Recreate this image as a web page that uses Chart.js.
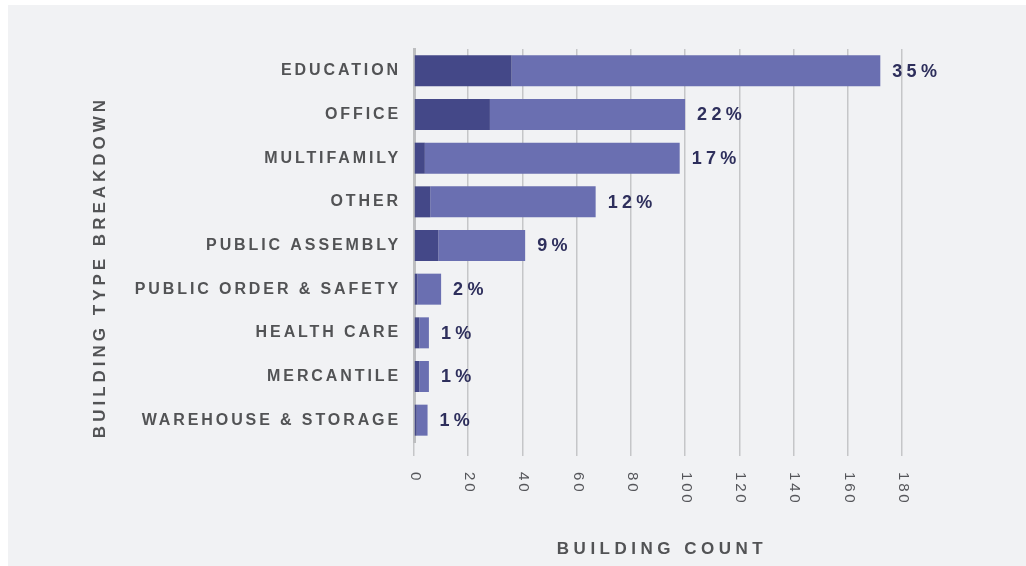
<!DOCTYPE html>
<html>
<head>
<meta charset="utf-8">
<title>Building Type Breakdown</title>
<script src="https://cdn.jsdelivr.net/npm/chart.js@4/dist/chart.umd.min.js"></script>
<style>
    html, body { margin: 0; padding: 0; background: #ffffff; }
    canvas { display: block; }
</style>
</head>
<body>
<canvas id="chart" width="1026" height="566"></canvas>
<script>
// values
const categories = ['EDUCATION', 'OFFICE', 'MULTIFAMILY', 'OTHER', 'PUBLIC ASSEMBLY',
    'PUBLIC ORDER & SAFETY', 'HEALTH CARE', 'MERCANTILE', 'WAREHOUSE & STORAGE'];
const darkCounts = [36, 28, 4, 6, 9, 1.3, 2, 2, 1];
const lightCounts = [136, 72, 94, 61, 32, 8.7, 3.5, 3.5, 4];
const shareLabels = ['35%', '22%', '17%', '12%', '9%', '2%', '1%', '1%', '1%'];
const xMin = 0;
const xMax = 180;
const xStep = 20;
const xTitle = 'BUILDING COUNT';
const yTitle = 'BUILDING TYPE BREAKDOWN';

const FONT = "'Liberation Sans', Arial, Helvetica, sans-serif";
const GRAY_TEXT = '#525355';
const NAVY_TEXT = '#2e2f5c';

const framePlugin = {
    id: 'frame',
    beforeDraw: (chart) => {
        const ctx = chart.ctx;
        ctx.save();
        ctx.fillStyle = '#ffffff';
        ctx.fillRect(0, 0, chart.width, chart.height);
        ctx.fillStyle = '#f1f2f4';
        ctx.fillRect(8, 5, chart.width - 8, chart.height - 5);
        ctx.restore();
        ctx.letterSpacing = '2.9px'; // used by the category tick labels
    },
    afterDraw: (chart) => {
        const ctx = chart.ctx;
        const xScale = chart.scales.x;

        // x tick labels, turned clockwise
        ctx.save();
        ctx.letterSpacing = '2.8px';
        ctx.font = `15px ${FONT}`;
        ctx.fillStyle = '#55565a';
        ctx.textAlign = 'left';
        ctx.textBaseline = 'middle';
        xScale.ticks.forEach((tick, i) => {
            const x = xScale.getPixelForTick(i);
            ctx.save();
            ctx.translate(x + 1, 472);
            ctx.rotate(Math.PI / 2);
            ctx.fillText(String(tick.value), 0, 0);
            ctx.restore();
        });
        ctx.restore();

        // share labels at the end of each bar
        const meta = chart.getDatasetMeta(1);
        ctx.save();
        ctx.letterSpacing = '4.3px';
        ctx.font = `bold 18px ${FONT}`;
        ctx.fillStyle = NAVY_TEXT;
        ctx.textAlign = 'left';
        ctx.textBaseline = 'middle';
        meta.data.forEach((bar, i) => {
            ctx.fillText(shareLabels[i], bar.x + 12, bar.y + 1);
        });
        ctx.restore();

        // axis titles
        ctx.save();
        ctx.letterSpacing = '4.5px';
        ctx.font = `bold 17px ${FONT}`;
        ctx.fillStyle = GRAY_TEXT;
        ctx.textAlign = 'center';
        ctx.textBaseline = 'middle';
        ctx.fillText(xTitle, 662, 549);
        ctx.translate(100, 269);
        ctx.rotate(-Math.PI / 2);
        ctx.letterSpacing = '4px';
        ctx.fillText(yTitle, 2, 0);
        ctx.restore();
    }
};

new Chart(document.getElementById('chart'), {
    type: 'bar',
    data: {
        labels: categories,
        datasets: [{
            label: 'dark',
            data: darkCounts,
            backgroundColor: '#444888',
            borderWidth: 0,
            barPercentage: 0.71,
            categoryPercentage: 1
        }, {
            label: 'light',
            data: lightCounts,
            backgroundColor: '#6a6fb1',
            borderWidth: 0,
            barPercentage: 0.71,
            categoryPercentage: 1
        }]
    },
    options: {
        indexAxis: 'y',
        responsive: false,
        animation: false,
        devicePixelRatio: 1,
        layout: {
            padding: { left: 0, top: 49, right: 124, bottom: 0 }
        },
        plugins: {
            legend: { display: false },
            tooltip: { enabled: false }
        },
        scales: {
            x: {
                stacked: true,
                min: xMin,
                max: xMax,
                ticks: { display: false, stepSize: xStep },
                grid: {
                    color: '#c5c6c8',
                    lineWidth: 1.5,
                    drawTicks: true,
                    tickLength: 14,
                    tickColor: '#c5c6c8'
                },
                border: { display: false },
                afterFit: (scale) => { scale.height = 124; }
            },
            y: {
                stacked: true,
                ticks: {
                    font: { family: FONT, size: 16, weight: 'bold' },
                    color: GRAY_TEXT,
                    padding: 13
                },
                grid: { display: false, drawTicks: false },
                border: { display: true, color: '#bdbec0', width: 3 },
                afterFit: (scale) => { scale.width = 414; }
            }
        }
    },
    plugins: [framePlugin]
});
</script>
</body>
</html>
